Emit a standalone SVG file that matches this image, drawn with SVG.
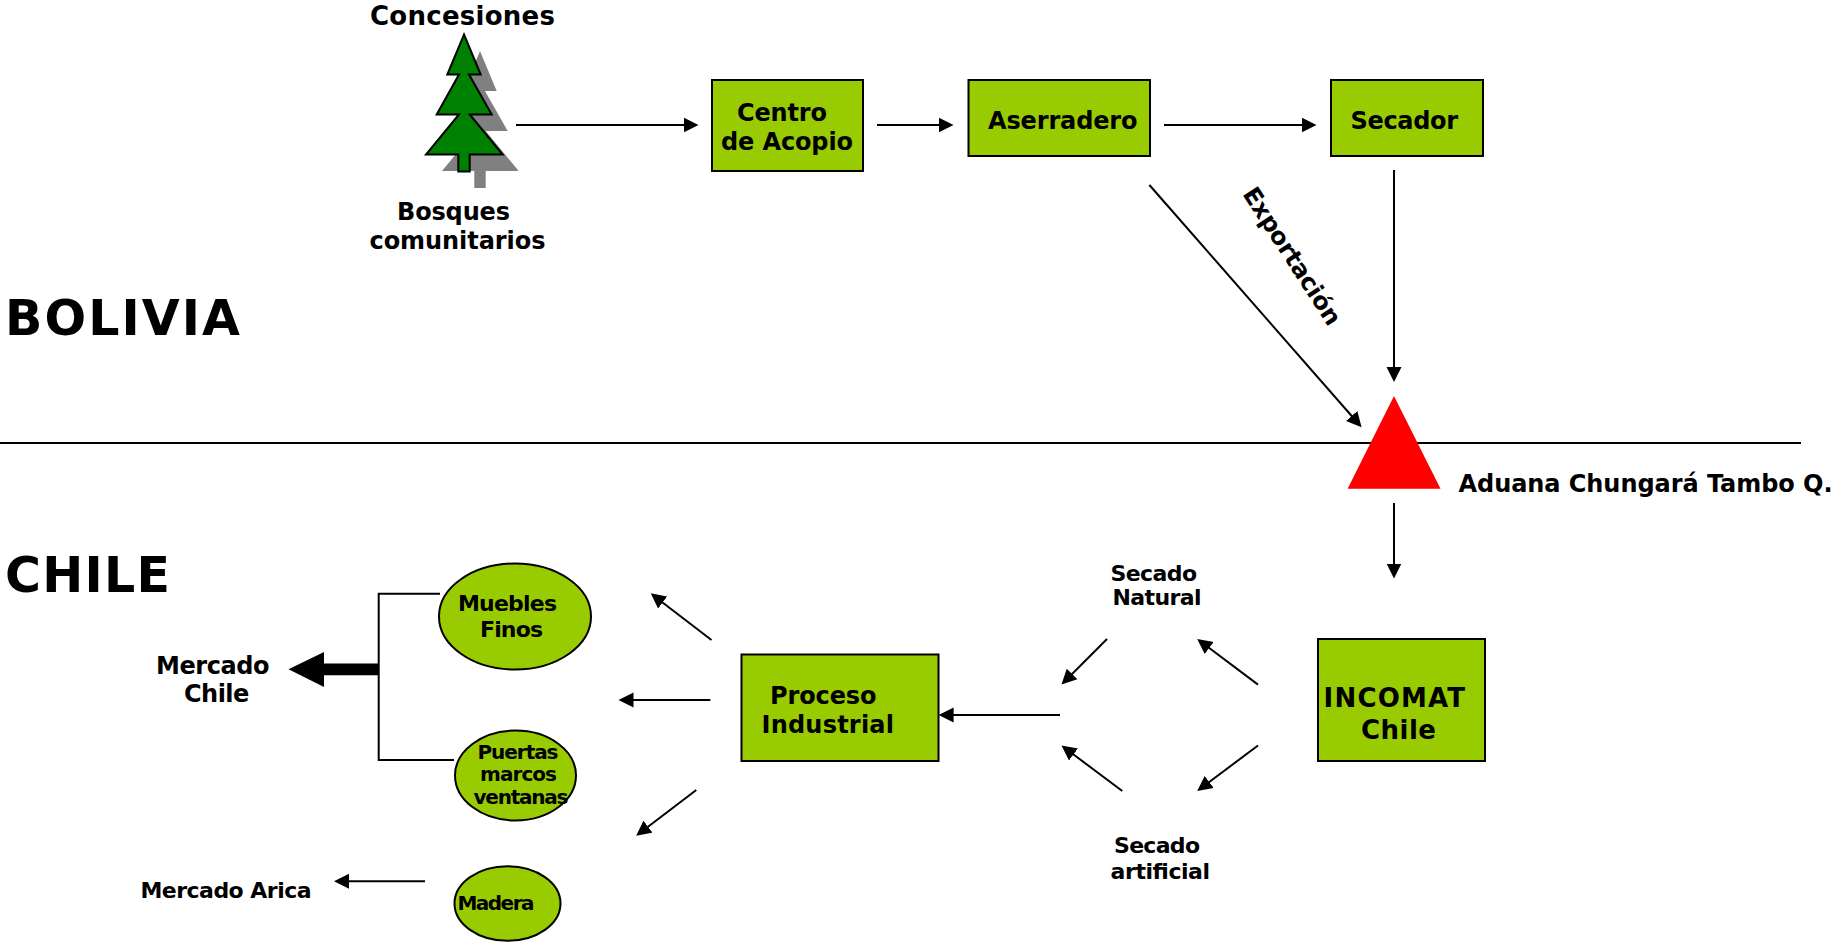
<svg xmlns="http://www.w3.org/2000/svg" width="1835" height="942" viewBox="0 0 1835 942">
<style>
text{font-family:"DejaVu Sans",Verdana,sans-serif;font-weight:bold;fill:#000;font-size:24px}
.box{fill:#99cc00;stroke:#000;stroke-width:2}
.ln{fill:none;stroke:#000;stroke-width:2}
.ar{marker-end:url(#ah)}
.big{font-size:49px}
.s22{font-size:22px}
.s20{font-size:20px}
</style>
<defs>
<marker id="ah" markerUnits="userSpaceOnUse" markerWidth="16" markerHeight="16" refX="12" refY="8" orient="auto"><path d="M0 0.5L15 8L0 15.5Z" fill="#000"/></marker>
<polygon id="tree" points="464,34 480.7,74 469,74 491.7,114 469.7,114 502.7,154 469.7,154 469.7,171 458.3,171 458.3,154 426,154 459,114 436.7,114 459,74 447.3,74"/>
</defs>
<rect width="1835" height="942" fill="#fff"/>
<g id="connectors">
<line class="ln" x1="0" y1="443" x2="1801" y2="443"/>
<line class="ln ar" x1="516" y1="125" x2="695.5" y2="125"/>
<line class="ln ar" x1="877" y1="125" x2="950.500" y2="125"/>
<line class="ln ar" x1="1164" y1="125" x2="1313.500" y2="125"/>
<line class="ln ar" x1="1394" y1="170" x2="1394" y2="379"/>
<line class="ln ar" x1="1149.4" y1="185" x2="1359.600" y2="425"/>
<line class="ln ar" x1="1394" y1="503" x2="1394" y2="575.500"/>
<line class="ln ar" x1="1258" y1="684.6" x2="1199.6" y2="640.8"/>
<line class="ln ar" x1="1258" y1="745.5" x2="1199.6" y2="789.2"/>
<line class="ln ar" x1="1107" y1="639" x2="1063.6" y2="682.5"/>
<line class="ln ar" x1="1122.3" y1="791" x2="1063.9" y2="747.3"/>
<line class="ln ar" x1="1060" y1="715" x2="941.6" y2="715"/>
<line class="ln ar" x1="711.5" y1="640" x2="653.1" y2="595.2"/>
<line class="ln ar" x1="710.4" y1="700" x2="621.500" y2="700"/>
<line class="ln ar" x1="696.3" y1="790" x2="638.500" y2="834"/>
<line class="ln ar" x1="425" y1="881.3" x2="337" y2="881.3"/>
<polyline class="ln" points="440,593.7 378.7,593.7 378.7,760 454,760"/>
<polygon points="288.5,669.3 324,652 324,663.5 378.7,663.5 378.7,675.3 324,675.3 324,687" fill="#000"/>
</g>
<g id="tree-node">
<use href="#tree" x="16" y="17" fill="#808080"/>
<use href="#tree" y="0.5" fill="#008000" stroke="#000" stroke-width="2"/>
<text x="370" y="25" textLength="185" style="font-size:26px">Concesiones</text>
<text x="397" y="219.500" textLength="113">Bosques</text>
<text x="369.500" y="248.500" textLength="176">comunitarios</text>
</g>
<g id="centro"><rect class="box" x="712" y="80" width="151" height="91"/><text x="737" y="120.500" textLength="90">Centro</text><text x="721" y="149.500" textLength="132">de Acopio</text></g>
<g id="aserradero"><rect class="box" x="968.500" y="80" width="181.500" height="76"/><text x="988" y="128.500" textLength="149.500">Aserradero</text></g>
<g id="secador"><rect class="box" x="1331" y="80" width="152" height="76"/><text x="1350.500" y="128.500" textLength="107.500">Secador</text></g>
<text id="exportacion" transform="translate(1242 194) rotate(57)" textLength="159">Exportación</text>
<text id="bolivia" class="big" x="5" y="335" textLength="235">BOLIVIA</text>
<text id="chile" class="big" x="5" y="592" textLength="165">CHILE</text>
<g id="aduana"><polygon points="1394,396 1440.500,488.7 1347.600,488.7" fill="#ff0000"/><text x="1458.500" y="491.500" textLength="374">Aduana Chungará Tambo Q.</text></g>
<g id="incomat"><rect class="box" x="1318" y="639" width="167" height="122"/><text x="1323.600" y="706.500" textLength="141.500" style="font-size:26px">INCOMAT</text><text x="1361" y="738.500" textLength="75" style="font-size:26px">Chile</text></g>
<g id="proceso"><rect class="box" x="741.500" y="654.500" width="197" height="106.500"/><text x="770" y="703.500" textLength="106.500">Proceso</text><text x="761.500" y="732.500" textLength="132.500">Industrial</text></g>
<g id="secado-natural"><text class="s22" x="1110.600" y="580.500" textLength="86.400">Secado</text><text class="s22" x="1112.500" y="605" textLength="89">Natural</text></g>
<g id="secado-artificial"><text class="s22" x="1114" y="852.500" textLength="86">Secado</text><text class="s22" x="1110.600" y="878.500" textLength="99.400">artificial</text></g>
<g id="muebles"><ellipse class="box" cx="515" cy="616.500" rx="76" ry="53"/><text class="s22" x="458" y="610.500" textLength="99">Muebles</text><text class="s22" x="480" y="636.500" textLength="63">Finos</text></g>
<g id="puertas"><ellipse class="box" cx="515.500" cy="775.500" rx="60.500" ry="45"/><text class="s20" x="477.500" y="758.500" textLength="81">Puertas</text><text class="s20" x="480" y="780.500" textLength="77">marcos</text><text class="s20" x="473.500" y="803.500" textLength="95">ventanas</text></g>
<g id="madera"><ellipse class="box" cx="507.500" cy="903.500" rx="53" ry="37.300"/><text class="s20" x="457.500" y="909.500" textLength="77">Madera</text></g>
<g id="mercado-chile"><text x="156" y="673.500" textLength="113.500">Mercado</text><text x="184" y="701.500" textLength="65.300">Chile</text></g>
<text id="mercado-arica" class="s22" x="140.500" y="897.500" textLength="171">Mercado Arica</text>
</svg>
